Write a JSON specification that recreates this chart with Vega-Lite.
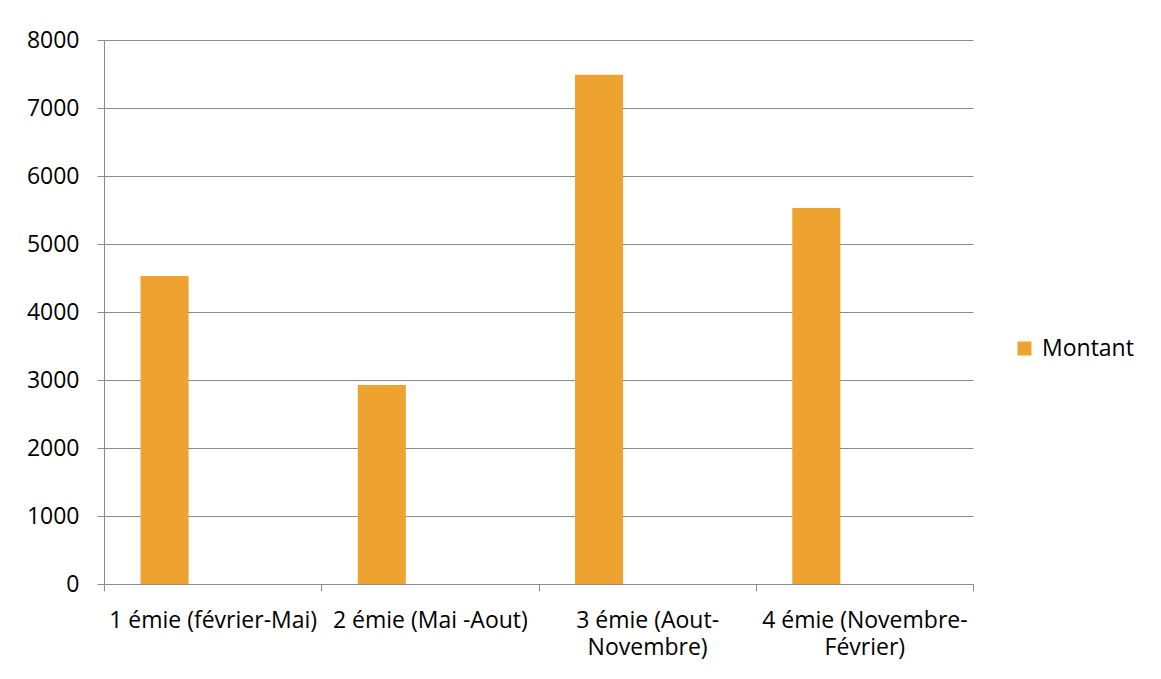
{
  "$schema": "https://vega.github.io/schema/vega-lite/v6.json",
  "autosize": {"type": "none"},
  "padding": {"left": 104, "top": 40, "right": 188, "bottom": 95},
  "width": 869,
  "height": 544,
  "background": "white",
  "config": {
    "view": {"stroke": null},
    "font": "Open Sans",
    "style": {"guide-label": {"lineBreak": "\n"}},
    "axis": {
      "labelFont": "Open Sans",
      "labelFontSize": 23,
      "labelColor": "#000000",
      "domainColor": "#8c8c8c",
      "tickColor": "#8c8c8c",
      "gridColor": "#8c8c8c",
      "domainWidth": 1,
      "tickWidth": 1,
      "gridWidth": 1,
      "tickSize": 7,
      "title": null
    },
    "legend": {"labelFont": "Open Sans", "labelFontSize": 23, "labelColor": "#000000"}
  },
  "data": {
    "values": [
      {"periode": "1 émie (février-Mai)", "serie": "Montant", "montant": 4530},
      {"periode": "2 émie (Mai -Aout)", "serie": "Montant", "montant": 2925},
      {"periode": "3 émie (Aout-\nNovembre)", "serie": "Montant", "montant": 7490},
      {"periode": "4 émie (Novembre-\nFévrier)", "serie": "Montant", "montant": 5530}
    ]
  },
  "mark": {"type": "bar"},
  "encoding": {
    "x": {
      "field": "periode",
      "type": "nominal",
      "sort": null,
      "scale": {"paddingInner": 0, "paddingOuter": 0},
      "axis": {
        "labelAngle": 0,
        "tickBand": "extent",
        "grid": false,
        "labelPadding": 18,
        "labelLimit": 0,
        "labelLineHeight": 27,
        "labelBaseline": "top"
      }
    },
    "xOffset": {
      "field": "serie",
      "type": "nominal",
      "scale": {"domain": ["Montant", "s2", "s3"], "paddingInner": 0, "paddingOuter": 0.76}
    },
    "y": {
      "field": "montant",
      "type": "quantitative",
      "stack": null,
      "scale": {"domain": [0, 8000], "nice": false},
      "axis": {"values": [0, 1000, 2000, 3000, 4000, 5000, 6000, 7000, 8000], "grid": true, "labelPadding": 18, "format": "d"}
    },
    "color": {
      "field": "serie",
      "type": "nominal",
      "scale": {"domain": ["Montant"], "range": ["#EEA230"]},
      "legend": {
        "title": null,
        "orient": "none",
        "legendX": 909,
        "legendY": 297,
        "symbolType": "square",
        "symbolSize": 196,
        "labelOffset": 6
      }
    }
  }
}
